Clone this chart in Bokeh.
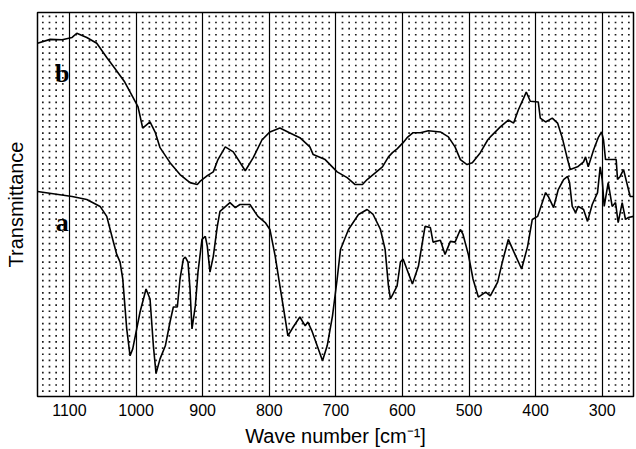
import numpy as np
from bokeh.plotting import figure
from bokeh.models import Range1d, FixedTicker, ColumnDataSource
from bokeh.core.properties import value
from bokeh.embed import file_html
from bokeh.resources import INLINE

# ---- data (wave number in cm^-1, transmittance in arbitrary units) ----
wn_b = [1148, 1129, 1111, 1096, 1089, 1074, 1059, 1044, 1032, 1017, 1005, 997, 990, 979, 971, 964,
        949, 934, 919, 908, 904, 893, 884, 877, 866, 854, 836, 824, 811, 799, 784, 772, 754, 739,
        734, 716, 698, 683, 671, 660, 653, 644, 630, 621, 615, 608, 599, 593, 584, 573, 561, 543,
        531, 521, 513, 503, 495, 483, 472, 468, 453, 441, 433, 426, 418, 414,
        408, 396, 393, 385, 375, 367, 360, 352, 348, 337, 328, 325, 321, 313, 306, 301, 298, 295,
        279, 277, 273, 268, 258, 253]
t_b = [92.0, 93.0, 92.9, 93.5, 94.6, 93.5, 92.0, 88.3, 85.5, 81.9, 78.0, 75.4, 69.9, 71.5, 68.7, 64.8,
       60.9, 57.8, 55.7, 55.2, 56.0, 57.5, 58.5, 61.7, 65.0, 63.7, 58.8, 62.2, 66.8, 68.9, 69.9, 68.9,
       67.4, 65.0, 63.0, 61.7, 58.5, 57.0, 55.2, 55.2, 56.5, 57.8, 59.8, 62.4, 63.5, 64.5, 66.1, 67.4,
       68.7, 68.7, 69.2, 68.9, 67.6, 65.0, 61.7, 60.4, 60.9, 63.5, 66.8, 67.6, 70.2, 72.0, 71.2, 74.6,
       77.7, 79.3,
       76.9, 76.7, 72.5, 71.5, 72.5, 71.2, 67.4, 61.7, 59.1, 59.8, 61.1, 62.4, 59.8, 64.2, 67.4, 68.9,
       66.8, 61.7, 61.7, 56.5, 57.3, 59.1, 52.1, 52.1]

wn_a = [1148, 1096, 1074, 1054, 1044, 1035, 1029, 1024, 1020, 1014, 1009, 1005, 994, 985, 979, 974,
        970, 964, 956, 949, 944, 938, 934, 929, 926, 922, 919, 916, 911, 907, 901, 896, 893, 889,
        884, 878, 874, 859, 851, 844, 829, 817, 806, 799, 791, 784, 776, 772, 764, 754, 746, 742,
        736, 728, 720, 713, 705, 698, 693, 681, 666, 653, 644, 633, 626, 621, 618, 614, 608,
        603, 599, 585, 576, 566, 558, 554, 543, 536, 528, 521, 513, 509, 501, 494, 486, 475, 468,
        457, 450, 441, 433, 421, 412, 405, 397, 385, 381, 373, 366, 358, 352, 349, 345, 340, 336,
        328, 322, 315, 307, 303, 300, 297, 291, 285, 280, 276, 270, 265, 261, 253]
t_a = [53.4, 52.1, 51.3, 49.5, 46.9, 40.9, 37.0, 35.0, 30.6, 17.6, 10.6, 12.4, 22.0, 28.0, 25.4, 13.2,
       6.0, 9.8, 13.2, 19.4, 23.3, 23.3, 30.6, 35.8, 36.3, 35.0, 28.0, 17.6, 23.6, 32.4, 40.9, 41.7,
       39.1, 32.4, 36.5, 44.3, 48.2, 50.5, 49.2, 50.0, 50.0, 46.9, 45.3, 43.5, 36.5, 28.8, 20.2, 15.8,
       18.1, 20.7, 18.4, 19.4, 17.1, 13.2, 9.3, 13.2, 21.0, 30.6, 38.3, 43.5, 47.4, 48.7, 47.4, 43.5,
       38.3, 28.8, 25.4, 26.7, 28.8,
       35.0, 35.8, 29.3, 33.9, 44.3, 44.0, 40.2, 40.7, 37.0, 40.4, 40.2, 43.5, 42.2, 37.0, 30.6, 25.9,
       27.2, 26.2, 29.8, 35.0, 40.9, 37.8, 33.2, 39.1, 46.1, 46.9, 53.1, 52.1, 49.2, 53.9, 56.5, 57.3,
       55.7, 49.5, 47.9, 49.5, 48.7, 45.6, 50.0, 53.1, 59.8, 56.5, 49.5, 55.7, 49.5, 50.5, 45.3, 50.5,
       46.1, 46.6, 46.9]

tick_values = [1100, 1000, 900, 800, 700, 600, 500, 400, 300]
curve_labels = ["b", "a"]
label_x = [1111, 1111]
label_y = [84.2, 45.3]

X_MIN, X_MAX = 1148, 253

p = figure(width=636, height=449, output_backend="svg", toolbar_location=None,
           x_range=Range1d(X_MIN, X_MAX), y_range=Range1d(0, 100),
           min_border_left=37, min_border_right=3, min_border_top=12, min_border_bottom=51)

p.outline_line_color = "black"
p.outline_line_width = 1.5
p.background_fill_color = "white"

# dotted chart-paper background
gx = np.arange(1140, 250, -10)
gx = gx[gx % 100 != 0]
gy = 99.0 - 1.6 * np.arange(62)
GX, GY = np.meshgrid(gx, gy)
p.scatter(GX.ravel(), GY.ravel(), marker="square", size=1.7, color="#1a1a1a",
          line_color=None)

# x axis
p.xaxis.ticker = FixedTicker(ticks=tick_values)
p.xaxis.major_tick_line_color = None
p.xaxis.minor_tick_line_color = None
p.xaxis.axis_line_color = None
p.xaxis.major_label_text_font = "Liberation Sans"
p.xaxis.major_label_text_font_size = "16px"
p.xaxis.major_label_text_color = "black"
p.xaxis.major_label_standoff = 1
p.xaxis.axis_label = "Wave number [cm\u207b\u00b9]"
p.xaxis.axis_label_text_font = "Liberation Sans"
p.xaxis.axis_label_text_font_size = "20px"
p.xaxis.axis_label_text_font_style = "normal"
p.xaxis.axis_label_text_color = "black"
p.xaxis.axis_label_standoff = 6

p.xgrid.ticker = FixedTicker(ticks=tick_values)
p.xgrid.grid_line_color = "black"
p.xgrid.grid_line_width = 1.2
p.ygrid.grid_line_color = None

# y axis (label only)
p.yaxis.ticker = FixedTicker(ticks=[])
p.yaxis.major_tick_line_color = None
p.yaxis.minor_tick_line_color = None
p.yaxis.axis_line_color = None
p.yaxis.major_label_text_font_size = "0px"
p.yaxis.major_label_standoff = 0
p.yaxis.axis_label = "Transmittance"
p.yaxis.axis_label_text_font = "Liberation Sans"
p.yaxis.axis_label_text_font_size = "20px"
p.yaxis.axis_label_text_font_style = "normal"
p.yaxis.axis_label_text_color = "black"
p.yaxis.axis_label_standoff = 11

# spectra
p.line(wn_b, t_b, line_color="black", line_width=1.6)
p.line(wn_a, t_a, line_color="black", line_width=1.6)

src = ColumnDataSource(dict(x=label_x, y=label_y, t=curve_labels))
p.text(x="x", y="y", text="t", source=src, text_font=value("Liberation Serif"),
       text_font_style="bold", text_font_size="26px", text_align="center",
       text_baseline="alphabetic", text_color="black")

open("out.html", "w").write(file_html(p, INLINE))
